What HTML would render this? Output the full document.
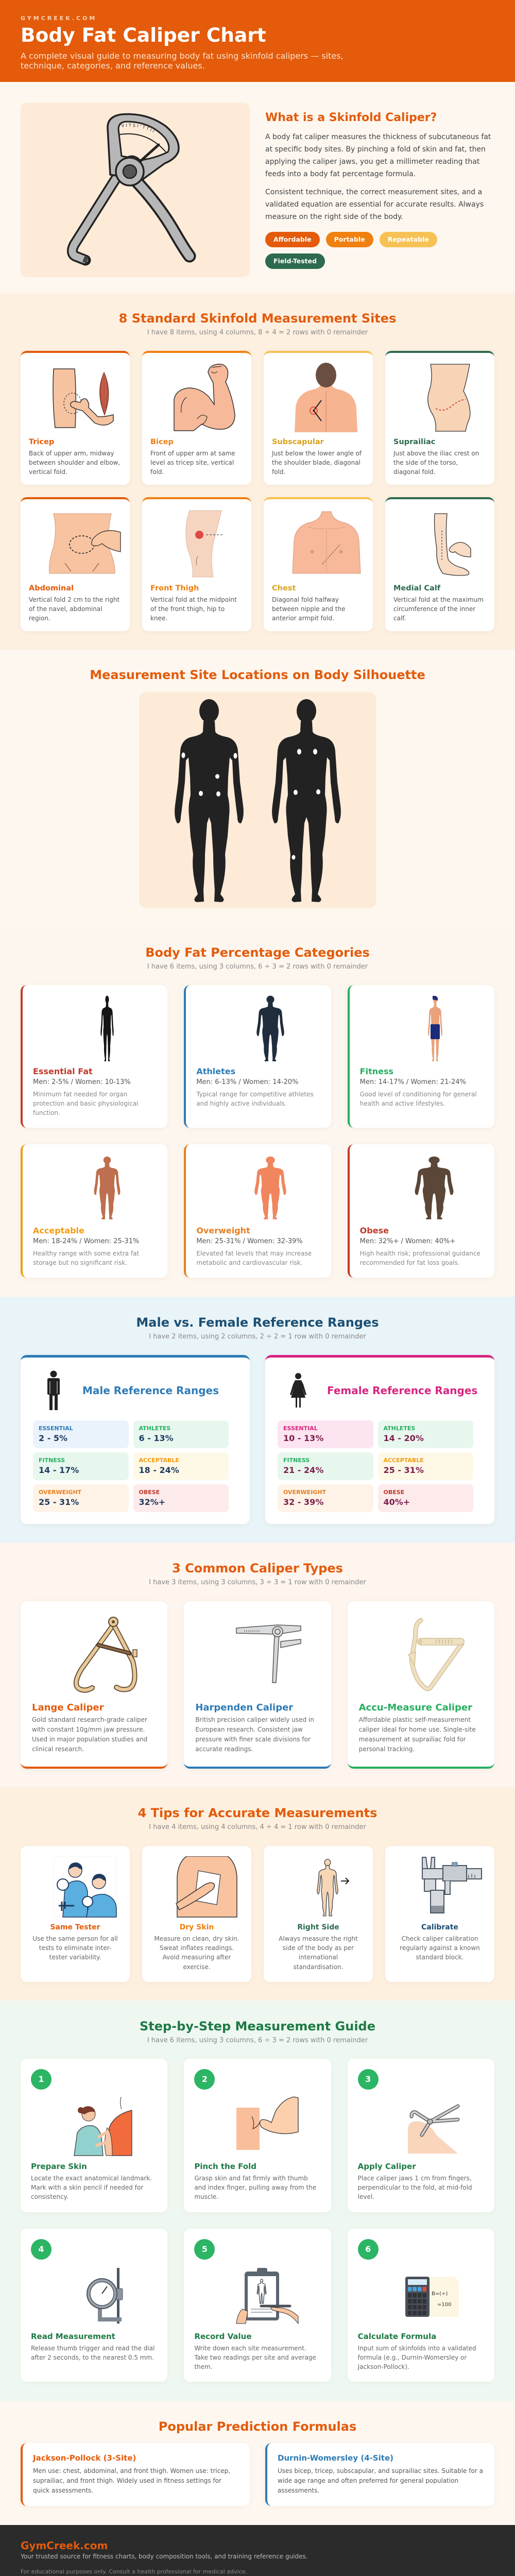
<!DOCTYPE html>
<html><head><meta charset="utf-8"><title>Body Fat Caliper Chart</title>
<style>
*{box-sizing:border-box}
html,body{height:5029px;max-height:5029px;overflow:hidden;background:#2b2b2b}
body{margin:0;width:1000px;font-family:"DejaVu Sans","Liberation Sans",sans-serif;color:#333}
section{overflow:hidden;padding:36px 40px 0;position:relative}
h2{margin:0 0 4px;text-align:center;font-size:24px;line-height:28.8px;font-weight:bold;color:#e35b0b}
.sub{text-align:center;font-size:13px;line-height:18px;color:#888;margin:0 0 26px}
.card{background:#fff;border-radius:12px;box-shadow:0 2px 10px rgba(120,80,40,0.06)}
svg{display:block}
.g4{display:grid;grid-template-columns:repeat(4,212px);gap:24px}
.g3{display:grid;grid-template-columns:repeat(3,285.33px);gap:32px}
.g2{display:grid;grid-template-columns:445px 445px;gap:30px}
.site{height:260px;border-top:4px solid;padding:16px}
.site h4{margin:8px 0 0;font-size:14.5px;line-height:18px}
.site p{margin:4px 0 0;font-size:12px;line-height:18px;color:#555}
.cat{border-left:4px solid;padding:20px}
.cat h4{margin:10px 0 0;font-size:16px;line-height:20px}
.cat .rng{margin-top:2px;font-size:13px;line-height:18px;color:#555}
.cat p{margin:5px 0 0;font-size:12px;line-height:18px;color:#888}
.mf{border-top:5px solid;padding:24px;height:328px}
.mfh{display:flex;align-items:center;height:80px;gap:16px}
.mfh h3{font-size:20px;margin:0;line-height:24px}
.rg{display:grid;grid-template-columns:185.5px 185.5px;gap:8px 9px;margin-top:18px}
.rb{border-radius:8px;height:54px;padding:9px 11px}
.rb .l{font-size:11px;line-height:14px;font-weight:bold;margin-bottom:2px}
.rb .v{font-size:16px;line-height:20px;font-weight:bold}
.ct{height:325px;border-bottom:4px solid;padding:22px}
.ct h4{margin:14px 0 0;font-size:18px;line-height:22px}
.ct p{margin:3.5px 0 0;font-size:12px;line-height:19px;color:#666}
.tip{height:264px;padding:20px 20px;text-align:center}
.tip svg{margin:0 auto}
.tip h4{margin:9px 0 0;font-size:14px;line-height:18px}
.tip p{margin:4px 0 0;font-size:12px;line-height:18.3px;color:#666}
.st{padding:20px}
.num{width:40px;height:40px;border-radius:50%;background:#2bb564;color:#fff;font-weight:bold;font-size:16px;line-height:40px;text-align:center}
.st svg{margin-top:12px}
.st h4{margin:8px 0 0;font-size:15px;line-height:19px;color:#1e7a45}
.st p{margin:4.5px 0 0;font-size:12px;line-height:18px;color:#666}
.fm{height:122px;border-left:4px solid;padding:20px}
.fm h4{margin:0;font-size:15px;line-height:19px}
.fm p{margin:6px 0 0;font-size:12px;line-height:19px;color:#555}
.tag{display:inline-block;height:30px;line-height:30px;padding:0 16px;border-radius:15px;color:#fff;font-weight:bold;font-size:12.5px}
</style></head>
<body>

<header style="height:159px;background:#e35b0b;padding:28px 40px 0;overflow:hidden">
<div style="font-size:11px;line-height:16px;font-weight:bold;letter-spacing:4px;color:#fcd3ae">GYMCREEK.COM</div>
<h1 style="margin:2px 0 0;font-size:37.5px;line-height:45px;color:#fff;font-weight:bold">Body Fat Caliper Chart</h1>
<p style="margin:7.5px 0 0;font-size:16px;line-height:19.2px;color:#fde3cc;max-width:680px">A complete visual guide to measuring body fat using skinfold calipers — sites, technique, categories, and reference values.</p>
</header>

<section style="height:410px;background:#fdf7f0;padding-top:40px">
<div style="display:flex;gap:30px">
<div style="width:445px;height:339px;background:#fdebd8;border-radius:12px;flex:none">
<svg width="445" height="339" viewBox="0 0 445 339">
<defs><path id="arcT" d="M196 48 Q250 40 288 84"/></defs>
<g stroke-linecap="round" stroke-linejoin="round">
<path d="M222 150 Q265 195 295 245 Q318 285 328 298" fill="none" stroke="#222" stroke-width="25"/>
<path d="M222 150 Q265 195 295 245 Q318 285 328 298" fill="none" stroke="#b7b7b7" stroke-width="17"/>
<path d="M186 146 L104 276 Q96 292 106 298 L126 306" fill="none" stroke="#222" stroke-width="21"/>
<path d="M186 146 L104 276 Q96 292 106 298 L124 305" fill="none" stroke="#b7b7b7" stroke-width="14"/>
<rect x="122" y="299" width="8" height="12" fill="#444" transform="rotate(20 126 305)"/>
<path d="M174 140 L169 50 Q168 27 196 23 Q245 19 282 46 Q312 72 306 96 Q300 110 280 118 L236 150 Z" fill="#b7b7b7" stroke="#222" stroke-width="3.5"/>
<path d="M196 104 L190 52 Q190 38 205 37 Q252 37 280 68 Q292 84 286 96 Q262 108 232 112 Q220 100 208 106 Z" fill="#fdebd8" stroke="#222" stroke-width="3"/>
<path d="M192 62 Q245 54 282 96" fill="none" stroke="#222" stroke-width="2"/>
<line x1="228" y1="118" x2="268" y2="82" stroke="#222" stroke-width="5"/>
<circle cx="212" cy="134" r="27" fill="#b7b7b7" stroke="#222" stroke-width="3.5"/>
<circle cx="212" cy="134" r="13" fill="#555" stroke="#222" stroke-width="2.5"/>
</g>
<text font-size="8" fill="#222" letter-spacing="3"><textPath href="#arcT">VITSI'TTII</textPath></text>
</svg>
</div>
<div style="width:445px;height:339px;display:flex;flex-direction:column;justify-content:center">
<h3 style="margin:0 0 11px;font-size:22px;line-height:28.6px;color:#e35b0b">What is a Skinfold Caliper?</h3>
<p style="margin:0 0 11px;font-size:14px;line-height:24px;color:#444">A body fat caliper measures the thickness of subcutaneous fat at specific body sites. By pinching a fold of skin and fat, then applying the caliper jaws, you get a millimeter reading that feeds into a body fat percentage formula.</p>
<p style="margin:0 0 17px;font-size:14px;line-height:24px;color:#444">Consistent technique, the correct measurement sites, and a validated equation are essential for accurate results. Always measure on the right side of the body.</p>
<div style="display:flex;flex-wrap:wrap;gap:12px">
<span class="tag" style="background:#e35b0b">Affordable</span>
<span class="tag" style="background:#f0800f">Portable</span>
<span class="tag" style="background:#f7c255">Repeatable</span>
<span class="tag" style="background:#2d6a4f">Field-Tested</span>
</div>
</div>
</div>
</section>

<section style="height:692px;background:#fdf0e1;padding-top:35px">
<h2>8 Standard Skinfold Measurement Sites</h2>
<div class="sub">I have 8 items, using 4 columns, 8 ÷ 4 = 2 rows with 0 remainder</div>
<div class="g4">
<div class="card site" style="border-top-color:#e35b0b">
<svg width="180" height="140" viewBox="0 0 180 140">
<path d="M48 15 L89 15 Q93 70 90 129 L51 129 Q45 75 48 15Z" fill="#f6c3a0" stroke="#333" stroke-width="1.5"/>
<ellipse cx="85" cy="82" rx="17" ry="20" fill="none" stroke="#333" stroke-dasharray="3 3" stroke-width="1.2"/>
<path d="M164 116 Q150 130 128 120 L104 96 Q92 94 82 88 Q78 80 88 78 L100 80 Q104 70 112 74 Q118 82 116 90 L134 108 Q150 108 164 104Z" fill="#f6c3a0" stroke="#333" stroke-width="1.5"/>
<path d="M146 22 Q163 60 147 104 Q129 60 146 22Z" fill="#c8604a" stroke="#6b2f22" stroke-width="1.2"/>
<path d="M146 30 L146 98 M141 40 Q138 62 143 92 M151 40 Q154 62 149 92" stroke="#8a3a2a" stroke-width="0.8" fill="none"/>
</svg>
<h4 style="color:#e35b0b">Tricep</h4>
<p>Back of upper arm, midway between shoulder and elbow, vertical fold.</p>
</div>
<div class="card site" style="border-top-color:#f0800f">
<svg width="180" height="140" viewBox="0 0 180 140">
<path d="M46 135 L46 74 Q50 55 74 52 Q98 52 114 70 L124 84 L122 42 Q116 32 112 22 Q114 8 130 6 Q146 4 150 18 Q152 30 146 40 Q160 70 164 104 Q164 128 142 132 Q120 134 100 122 L84 135 Z" fill="#f6b999" stroke="#333" stroke-width="1.5"/>
<path d="M60 100 Q58 80 70 70 M91 112 Q100 100 110 108 Q108 120 98 124 M118 20 Q124 26 130 20 M120 12 L138 10" stroke="#333" fill="none" stroke-width="1.2"/>
</svg>
<h4 style="color:#ef7d10">Bicep</h4>
<p>Front of upper arm at same level as tricep site, vertical fold.</p>
</div>
<div class="card site" style="border-top-color:#f5c150">
<svg width="180" height="140" viewBox="0 0 180 140">
<path d="M44 138 L46 92 Q48 62 80 55 Q95 52 96 42 L114 42 Q116 52 130 55 Q162 62 164 92 L166 138Z" fill="#f6b491"/>
<path d="M105 58 L105 138" stroke="#d98a6a" stroke-width="1.2"/>
<ellipse cx="105" cy="27" rx="20" ry="24" fill="#6a4e42"/>
<circle cx="81" cy="96" r="7" fill="none" stroke="#e5533f" stroke-width="2"/><circle cx="81" cy="96" r="2.5" fill="#e5533f"/>
<path d="M96 76 L81 96 L96 116" fill="none" stroke="#222" stroke-width="2"/>
</svg>
<h4 style="color:#d9a21b">Subscapular</h4>
<p>Just below the lower angle of the shoulder blade, diagonal fold.</p>
</div>
<div class="card site" style="border-top-color:#2d6a4f">
<svg width="180" height="140" viewBox="0 0 180 140">
<path d="M72 6 L148 6 Q142 38 136 58 Q152 88 148 110 Q142 124 140 136 L82 136 Q84 116 74 100 Q62 80 70 56 Q77 34 72 6Z" fill="#f8d4b7" stroke="#333" stroke-width="1.3"/>
<path d="M82 92 Q98 100 112 88 Q126 76 140 74" fill="none" stroke="#d9433a" stroke-width="1.8" stroke-dasharray="4 3"/>
</svg>
<h4 style="color:#2d6a4f">Suprailiac</h4>
<p>Just above the iliac crest on the side of the torso, diagonal fold.</p>
</div>
<div class="card site" style="border-top-color:#e35b0b">
<svg width="180" height="140" viewBox="0 0 180 140">
<path d="M48 12 L160 12 Q152 48 156 80 Q168 108 167 128 L40 128 Q38 104 48 76 Q55 42 48 12Z" fill="#f8c3a1" stroke="#d39a7a" stroke-width="1"/>
<path d="M70 108 L82 124 M136 108 L124 124" stroke="#8a5a45" stroke-width="1.2"/>
<ellipse cx="103" cy="72" rx="24" ry="17" fill="none" stroke="#333" stroke-width="1.8" stroke-dasharray="4 3"/>
<path d="M178 48 Q152 40 134 52 Q120 62 122 72 Q130 78 142 70 Q156 82 178 86Z" fill="#f9c6a2" stroke="#333" stroke-width="1.3"/>
</svg>
<h4 style="color:#e35b0b">Abdominal</h4>
<p>Vertical fold 2 cm to the right of the navel, abdominal region.</p>
</div>
<div class="card site" style="border-top-color:#f0800f">
<svg width="180" height="140" viewBox="0 0 180 140">
<path d="M76 6 L138 6 Q130 40 122 70 Q116 100 122 135 L82 135 Q84 110 72 80 Q64 40 76 6Z" fill="#f6d5c0" stroke="#d9b9a5" stroke-width="1"/>
<circle cx="95" cy="53" r="8" fill="#e04848"/>
<path d="M108 53 L142 53" stroke="#555" stroke-width="1.3" stroke-dasharray="4 3"/>
<path d="M92 94 Q88 104 90 112" stroke="#8a6a5a" fill="none"/>
</svg>
<h4 style="color:#ef7d10">Front Thigh</h4>
<p>Vertical fold at the midpoint of the front thigh, hip to knee.</p>
</div>
<div class="card site" style="border-top-color:#f5c150">
<svg width="180" height="140" viewBox="0 0 180 140">
<path d="M40 128 L43 64 Q46 34 78 28 Q95 22 97 8 L115 8 Q117 22 134 28 Q166 34 169 64 L172 128Z" fill="#f7b999" stroke="#d9957a" stroke-width="1"/>
<circle cx="78" cy="86" r="3.5" fill="#e2977a"/><circle cx="134" cy="86" r="3.5" fill="#e2977a"/>
<path d="M98 110 L132 72" stroke="#444" stroke-width="1" stroke-dasharray="3 2"/>
<path d="M106 40 L106 128 M70 38 Q90 44 104 40 M142 38 Q122 44 108 40" stroke="#e0a184" stroke-width="1" fill="none"/>
</svg>
<h4 style="color:#d9a21b">Chest</h4>
<p>Diagonal fold halfway between nipple and the anterior armpit fold.</p>
</div>
<div class="card site" style="border-top-color:#2d6a4f">
<svg width="180" height="140" viewBox="0 0 180 140">
<path d="M80 12 L104 12 Q100 60 106 100 Q112 112 136 118 Q152 126 144 131 Q120 134 96 128 Q82 110 84 80 Q78 40 80 12Z" fill="#f8dcc5" stroke="#333" stroke-width="1.3"/>
<path d="M94 45 L94 102" stroke="#333" stroke-width="1.2" stroke-dasharray="3 3"/>
<path d="M150 80 Q140 66 126 68 Q112 72 108 82 Q112 90 120 86 Q130 96 150 96Z" fill="#f8dcc5" stroke="#333" stroke-width="1.3"/>
</svg>
<h4 style="color:#2d6a4f">Medial Calf</h4>
<p>Vertical fold at the maximum circumference of the inner calf.</p>
</div>
</div>
</section>

<section style="height:536px;background:#fdf7f0;padding-top:35px">
<h2 style="margin-bottom:18px">Measurement Site Locations on Body Silhouette</h2>
<div style="width:460px;height:420px;margin:0 auto;background:#fdebd8;border-radius:14px">
<svg width="460" height="420" viewBox="0 0 460 420">
<g transform="translate(136,15)" fill="#222"><ellipse cx="0" cy="22" rx="19" ry="23"/><path d="M-11 42L-12 62Q-14 68-32 72Q-54 76-56 100L-60 160L-66 205Q-69 228-62 240Q-55 241-55 228L-52 205L-47 160L-45 118L-40 112L-37 150L-36 185Q-41 205-39 225L-36 265L-31 300Q-34 330-26 362L-22 378Q-34 390-24 393L-10 392L-11 370Q-8 330-8 300L-4 240L0 228L4 240L8 300Q8 330 11 370L10 392L24 393Q34 390 22 378L26 362Q34 330 31 300L36 265L39 225Q41 205 36 185L37 150L40 112L45 118L47 160L52 205L55 228Q55 241 62 240Q69 228 66 205L60 160L56 100Q54 76 32 72Q14 68 12 62L11 42Z"/>
<g fill="#fff"><ellipse cx="-50" cy="108" rx="3.5" ry="5.5"/><ellipse cx="51" cy="109" rx="3.5" ry="5.5"/><ellipse cx="16" cy="149" rx="4" ry="4.5"/><ellipse cx="-16" cy="182" rx="4" ry="5"/><ellipse cx="18" cy="183" rx="4" ry="5"/></g></g>
<g transform="translate(325,15)" fill="#222"><ellipse cx="0" cy="22" rx="19" ry="23"/><path d="M-11 42L-12 62Q-14 68-32 72Q-54 76-56 100L-60 160L-66 205Q-69 228-62 240Q-55 241-55 228L-52 205L-47 160L-45 118L-40 112L-37 150L-36 185Q-41 205-39 225L-36 265L-31 300Q-34 330-26 362L-22 378Q-34 390-24 393L-10 392L-11 370Q-8 330-8 300L-4 240L0 228L4 240L8 300Q8 330 11 370L10 392L24 393Q34 390 22 378L26 362Q34 330 31 300L36 265L39 225Q41 205 36 185L37 150L40 112L45 118L47 160L52 205L55 228Q55 241 62 240Q69 228 66 205L60 160L56 100Q54 76 32 72Q14 68 12 62L11 42Z"/>
<g fill="#fff"><ellipse cx="-14" cy="101" rx="4" ry="5.5"/><ellipse cx="17" cy="101" rx="4" ry="5.5"/><ellipse cx="-21" cy="180" rx="4" ry="5"/><ellipse cx="23" cy="179" rx="4" ry="5"/><ellipse cx="-25" cy="306" rx="3.5" ry="4.5"/></g></g>
</svg>
</div>
</section>

<section style="height:720px;background:#fdf6ee;padding-top:38px">
<h2>Body Fat Percentage Categories</h2>
<div class="sub">I have 6 items, using 3 columns, 6 ÷ 3 = 2 rows with 0 remainder</div>
<div class="g3">
<div class="card cat" style="border-left-color:#c0392b;height:277px">
<svg width="241" height="128" viewBox="0 0 241 128"><g transform="translate(144,1) scale(0.19,0.325)" fill="#151515"><ellipse cx="0" cy="22" rx="19" ry="23"/><path d="M-11 42L-12 62Q-14 68-32 72Q-54 76-56 100L-60 160L-66 205Q-69 228-62 240Q-55 241-55 228L-52 205L-47 160L-45 118L-40 112L-37 150L-36 185Q-41 205-39 225L-36 265L-31 300Q-34 330-26 362L-22 378Q-34 390-24 393L-10 392L-11 370Q-8 330-8 300L-4 240L0 228L4 240L8 300Q8 330 11 370L10 392L24 393Q34 390 22 378L26 362Q34 330 31 300L36 265L39 225Q41 205 36 185L37 150L40 112L45 118L47 160L52 205L55 228Q55 241 62 240Q69 228 66 205L60 160L56 100Q54 76 32 72Q14 68 12 62L11 42Z"/></g></svg>
<h4 style="color:#c0392b">Essential Fat</h4>
<div class="rng">Men: 2-5% / Women: 10-13%</div>
<p>Minimum fat needed for organ protection and basic physiological function.</p>
</div>
<div class="card cat" style="border-left-color:#2e7bb5;height:277px">
<svg width="241" height="128" viewBox="0 0 241 128"><g transform="translate(144,1) scale(0.40,0.325)" fill="#1f2d3d"><ellipse cx="0" cy="22" rx="19" ry="23"/><path d="M-11 42L-12 62Q-14 68-32 72Q-54 76-56 100L-60 160L-66 205Q-69 228-62 240Q-55 241-55 228L-52 205L-47 160L-45 118L-40 112L-37 150L-36 185Q-41 205-39 225L-36 265L-31 300Q-34 330-26 362L-22 378Q-34 390-24 393L-10 392L-11 370Q-8 330-8 300L-4 240L0 228L4 240L8 300Q8 330 11 370L10 392L24 393Q34 390 22 378L26 362Q34 330 31 300L36 265L39 225Q41 205 36 185L37 150L40 112L45 118L47 160L52 205L55 228Q55 241 62 240Q69 228 66 205L60 160L56 100Q54 76 32 72Q14 68 12 62L11 42Z"/></g></svg>
<h4 style="color:#2e7bb5">Athletes</h4>
<div class="rng">Men: 6-13% / Women: 14-20%</div>
<p>Typical range for competitive athletes and highly active individuals.</p>
</div>
<div class="card cat" style="border-left-color:#27ae60;height:277px">
<svg width="241" height="128" viewBox="0 0 241 128"><g transform="translate(146,1) scale(0.21,0.325)" fill="#e9a27c"><ellipse cx="0" cy="22" rx="19" ry="23"/><path d="M-11 42L-12 62Q-14 68-32 72Q-54 76-56 100L-60 160L-66 205Q-69 228-62 240Q-55 241-55 228L-52 205L-47 160L-45 118L-40 112L-37 150L-36 185Q-41 205-39 225L-36 265L-31 300Q-34 330-26 362L-22 378Q-34 390-24 393L-10 392L-11 370Q-8 330-8 300L-4 240L0 228L4 240L8 300Q8 330 11 370L10 392L24 393Q34 390 22 378L26 362Q34 330 31 300L36 265L39 225Q41 205 36 185L37 150L40 112L45 118L47 160L52 205L55 228Q55 241 62 240Q69 228 66 205L60 160L56 100Q54 76 32 72Q14 68 12 62L11 42Z"/></g>
<rect x="137" y="56" width="18" height="29" rx="2" fill="#1b2d7a"/><path d="M141 1 Q150 0 151 6 L151 10 L141 8Z" fill="#1b2d7a"/></svg>
<h4 style="color:#27ae60">Fitness</h4>
<div class="rng">Men: 14-17% / Women: 21-24%</div>
<p>Good level of conditioning for general health and active lifestyles.</p>
</div>
<div class="card cat" style="border-left-color:#f39c12;height:259px">
<svg width="241" height="128" viewBox="0 0 241 128"><g transform="translate(144,4) scale(0.38,0.31)" fill="#bd6f4f"><ellipse cx="0" cy="22" rx="19" ry="23"/><path d="M-11 42L-12 62Q-14 68-32 72Q-54 76-56 100L-60 160L-66 205Q-69 228-62 240Q-55 241-55 228L-52 205L-47 160L-45 118L-40 112L-37 150L-36 185Q-41 205-39 225L-36 265L-31 300Q-34 330-26 362L-22 378Q-34 390-24 393L-10 392L-11 370Q-8 330-8 300L-4 240L0 228L4 240L8 300Q8 330 11 370L10 392L24 393Q34 390 22 378L26 362Q34 330 31 300L36 265L39 225Q41 205 36 185L37 150L40 112L45 118L47 160L52 205L55 228Q55 241 62 240Q69 228 66 205L60 160L56 100Q54 76 32 72Q14 68 12 62L11 42Z"/></g></svg>
<h4 style="color:#f39c12">Acceptable</h4>
<div class="rng">Men: 18-24% / Women: 25-31%</div>
<p>Healthy range with some extra fat storage but no significant risk.</p>
</div>
<div class="card cat" style="border-left-color:#e67e22;height:259px">
<svg width="241" height="128" viewBox="0 0 241 128"><g transform="translate(144,4) scale(0.46,0.31)" fill="#f0855e"><ellipse cx="0" cy="22" rx="19" ry="23"/><path d="M-11 42L-12 62Q-14 68-32 72Q-54 76-56 100L-60 160L-66 205Q-69 228-62 240Q-55 241-55 228L-52 205L-47 160L-45 118L-40 112L-37 150L-36 185Q-41 205-39 225L-36 265L-31 300Q-34 330-26 362L-22 378Q-34 390-24 393L-10 392L-11 370Q-8 330-8 300L-4 240L0 228L4 240L8 300Q8 330 11 370L10 392L24 393Q34 390 22 378L26 362Q34 330 31 300L36 265L39 225Q41 205 36 185L37 150L40 112L45 118L47 160L52 205L55 228Q55 241 62 240Q69 228 66 205L60 160L56 100Q54 76 32 72Q14 68 12 62L11 42Z"/></g></svg>
<h4 style="color:#e67e22">Overweight</h4>
<div class="rng">Men: 25-31% / Women: 32-39%</div>
<p>Elevated fat levels that may increase metabolic and cardiovascular risk.</p>
</div>
<div class="card cat" style="border-left-color:#c0392b;height:259px">
<svg width="241" height="128" viewBox="0 0 241 128"><g transform="translate(144,4) scale(0.56,0.31)" fill="#5b4637"><ellipse cx="0" cy="22" rx="19" ry="23"/><path d="M-11 42L-12 62Q-14 68-32 72Q-54 76-56 100L-60 160L-66 205Q-69 228-62 240Q-55 241-55 228L-52 205L-47 160L-45 118L-40 112L-37 150L-36 185Q-41 205-39 225L-36 265L-31 300Q-34 330-26 362L-22 378Q-34 390-24 393L-10 392L-11 370Q-8 330-8 300L-4 240L0 228L4 240L8 300Q8 330 11 370L10 392L24 393Q34 390 22 378L26 362Q34 330 31 300L36 265L39 225Q41 205 36 185L37 150L40 112L45 118L47 160L52 205L55 228Q55 241 62 240Q69 228 66 205L60 160L56 100Q54 76 32 72Q14 68 12 62L11 42Z"/></g></svg>
<h4 style="color:#c0392b">Obese</h4>
<div class="rng">Men: 32%+ / Women: 40%+</div>
<p>High health risk; professional guidance recommended for fat loss goals.</p>
</div>
</div>
</section>

<section style="height:477px;background:#e9f4f8;padding-top:36px">
<h2 style="color:#1b4f72">Male vs. Female Reference Ranges</h2>
<div class="sub">I have 2 items, using 2 columns, 2 ÷ 2 = 1 row with 0 remainder</div>
<div class="g2">
<div class="card mf" style="border-top-color:#2e7bb5">
<div class="mfh">
<svg width="80" height="80" viewBox="0 0 80 80"><g fill="#222"><circle cx="40" cy="8" r="6.5"/><path d="M28 19 Q28 16 31 16 L49 16 Q52 16 52 19 L52 46 Q52 48 50 48 L48 48 L48 78 L42 78 L42 50 L38 50 L38 78 L32 78 L32 48 L30 48 Q28 48 28 46Z"/></g><path d="M33 22 L33 46 M47 22 L47 46" stroke="#fff" stroke-width="1"/></svg>
<h3 style="color:#2e7bb5">Male Reference Ranges</h3>
</div>
<div class="rg">
<div class="rb" style="background:#eaf3fb"><div class="l" style="color:#2e7bb5">ESSENTIAL</div><div class="v" style="color:#1e3a5f">2 - 5%</div></div>
<div class="rb" style="background:#e7f7ee"><div class="l" style="color:#27ae60">ATHLETES</div><div class="v" style="color:#1e3a5f">6 - 13%</div></div>
<div class="rb" style="background:#e7f7ee"><div class="l" style="color:#27ae60">FITNESS</div><div class="v" style="color:#1e3a5f">14 - 17%</div></div>
<div class="rb" style="background:#fef8e6"><div class="l" style="color:#f39c12">ACCEPTABLE</div><div class="v" style="color:#1e3a5f">18 - 24%</div></div>
<div class="rb" style="background:#fef3e6"><div class="l" style="color:#e67e22">OVERWEIGHT</div><div class="v" style="color:#1e3a5f">25 - 31%</div></div>
<div class="rb" style="background:#fdebeb"><div class="l" style="color:#c0392b">OBESE</div><div class="v" style="color:#1e3a5f">32%+</div></div>
</div>
</div>
<div class="card mf" style="border-top-color:#d6247f">
<div class="mfh">
<svg width="80" height="80" viewBox="0 0 80 80"><g fill="#222"><circle cx="40" cy="12" r="6"/><path d="M34 20 L46 20 L50 28 L56 48 L53 49 L48 34 L54 54 L45 54 L45 73 L42 73 L42 54 L38 54 L38 73 L35 73 L35 54 L26 54 L32 34 L27 49 L24 48 L30 28Z"/></g></svg>
<h3 style="color:#d6247f">Female Reference Ranges</h3>
</div>
<div class="rg">
<div class="rb" style="background:#fce4f0"><div class="l" style="color:#d6247f">ESSENTIAL</div><div class="v" style="color:#7b1d4d">10 - 13%</div></div>
<div class="rb" style="background:#e7f7ee"><div class="l" style="color:#27ae60">ATHLETES</div><div class="v" style="color:#7b1d4d">14 - 20%</div></div>
<div class="rb" style="background:#e7f7ee"><div class="l" style="color:#27ae60">FITNESS</div><div class="v" style="color:#7b1d4d">21 - 24%</div></div>
<div class="rb" style="background:#fef8e6"><div class="l" style="color:#f39c12">ACCEPTABLE</div><div class="v" style="color:#7b1d4d">25 - 31%</div></div>
<div class="rb" style="background:#fef3e6"><div class="l" style="color:#e67e22">OVERWEIGHT</div><div class="v" style="color:#7b1d4d">32 - 39%</div></div>
<div class="rb" style="background:#fdebeb"><div class="l" style="color:#c0392b">OBESE</div><div class="v" style="color:#7b1d4d">40%+</div></div>
</div>
</div>
</div>
</section>

<section style="height:475px;background:#fdf5ee;padding-top:36px">
<h2>3 Common Caliper Types</h2>
<div class="sub" style="margin-bottom:27px">I have 3 items, using 3 columns, 3 ÷ 3 = 1 row with 0 remainder</div>
<div class="g3">
<div class="card ct" style="border-bottom-color:#e35b0b">
<svg width="241" height="160" viewBox="0 0 241 160">
<g fill="none" stroke-linecap="round" stroke-linejoin="round">
<path d="M155 28 L96 110 Q78 140 92 148 Q104 154 117 146" stroke="#5a4632" stroke-width="10"/>
<path d="M155 28 L96 110 Q78 140 92 148 Q104 154 117 146" stroke="#e9c896" stroke-width="6.5"/>
<path d="M161 28 L196 95 Q206 140 188 148 Q175 152 164 145" stroke="#5a4632" stroke-width="10"/>
<path d="M161 28 L196 95 Q206 140 188 148 Q175 152 164 145" stroke="#e9c896" stroke-width="6.5"/>
<path d="M129 63 L190 79" stroke="#4a3322" stroke-width="8"/>
<path d="M129 63 L190 79" stroke="#8a6a4a" stroke-width="4" stroke-dasharray="2 2"/>
</g>
<rect x="196" y="72" width="8" height="14" fill="#e9c896" stroke="#5a4632" stroke-width="1.5"/>
<circle cx="158" cy="18" r="9" fill="#e9c896" stroke="#5a4632" stroke-width="2"/><circle cx="158" cy="18" r="3" fill="#5a4632"/>
</svg>
<h4 style="color:#e35b0b">Lange Caliper</h4>
<p>Gold standard research-grade caliper with constant 10g/mm jaw pressure. Used in major population studies and clinical research.</p>
</div>
<div class="card ct" style="border-bottom-color:#2e7bb5">
<svg width="241" height="160" viewBox="0 0 241 160">
<path d="M80 30 L160 24 L205 26 L205 35 L160 42 L80 40Z" fill="#dadbdd" stroke="#555" stroke-width="1.5"/>
<path d="M96 34 v4 M100 34 v4 M104 34 v4 M108 34 v4 M112 34 v4 M116 34 v4 M120 34 v4 M124 34 v4" stroke="#666" stroke-width="1"/>
<path d="M166 56 L205 52 L205 60 L166 68Z" fill="#dadbdd" stroke="#555" stroke-width="1.5"/>
<path d="M154 44 L163 44 L157 136 L150 136Z" fill="#d5d6d8" stroke="#555" stroke-width="1.5"/>
<circle cx="160" cy="37" r="10" fill="#dadbdd" stroke="#555" stroke-width="1.5"/><circle cx="160" cy="37" r="5" fill="none" stroke="#555" stroke-width="1.5"/>
</svg>
<h4 style="color:#2e7bb5">Harpenden Caliper</h4>
<p>British precision caliper widely used in European research. Consistent jaw pressure with finer scale divisions for accurate readings.</p>
</div>
<div class="card ct" style="border-bottom-color:#27ae60">
<svg width="241" height="160" viewBox="0 0 241 160">
<g fill="none" stroke-linecap="round" stroke-linejoin="round">
<path d="M120 15 Q108 22 110 45 L102 92 Q108 130 126 144 Q134 152 140 144 L200 60" stroke="#d2be95" stroke-width="9"/>
<path d="M120 15 Q108 22 110 45 L102 92 Q108 130 126 144 Q134 152 140 144 L200 60" stroke="#efe0c2" stroke-width="6"/>
</g>
<path d="M96 82 L110 76 L108 104Z" fill="#efe0c2" stroke="#d2be95" stroke-width="1.5"/>
<rect x="114" y="50" width="90" height="13" rx="6" fill="#efe0c2" stroke="#d2be95" stroke-width="1.5"/>
<ellipse cx="118" cy="56.5" rx="5" ry="6.5" fill="#e0cda6"/>
<path d="M150 52 v8 M156 52 v8 M162 52 v8 M168 52 v8 M174 52 v8 M180 52 v8" stroke="#b9a47a" stroke-width="1"/>
</svg>
<h4 style="color:#27ae60">Accu-Measure Caliper</h4>
<p>Affordable plastic self-measurement caliper ideal for home use. Single-site measurement at suprailiac fold for personal tracking.</p>
</div>
</div>
</section>

<section style="height:414px;background:#fef0df;padding-top:36px">
<h2>4 Tips for Accurate Measurements</h2>
<div class="sub" style="margin-bottom:27px">I have 4 items, using 4 columns, 4 ÷ 4 = 1 row with 0 remainder</div>
<div class="g4">
<div class="card tip">
<svg width="172" height="120" viewBox="4 0 172 120">
<rect x="49" y="0" width="121" height="118" fill="#fff" stroke="#f2f2f2"/>
<path d="M66 118 L70 62 Q78 46 98 48 Q112 52 114 70 L114 118Z" fill="#5aaee0" stroke="#1e3a5f" stroke-width="1.5"/>
<circle cx="90" cy="28" r="13" fill="#f8d2b5" stroke="#1e3a5f" stroke-width="1.5"/>
<path d="M77 26 Q78 12 92 12 Q104 14 104 26 L98 24 Q92 18 84 22Z" fill="#1e3a5f"/>
<path d="M112 118 L118 84 Q128 72 148 74 Q168 80 170 100 L170 118Z" fill="#5aaee0" stroke="#1e3a5f" stroke-width="1.5"/>
<circle cx="136" cy="50" r="13" fill="#f8d2b5" stroke="#1e3a5f" stroke-width="1.5"/>
<path d="M123 48 Q124 34 138 34 Q150 36 150 48 L144 46 Q138 40 130 44Z" fill="#1e3a5f"/>
<circle cx="66" cy="55" r="11" fill="#fff" stroke="#1e3a5f" stroke-width="2"/>
<circle cx="114" cy="88" r="10" fill="#fff" stroke="#1e3a5f" stroke-width="2"/>
<path d="M58 96 L88 96 M64 88 L64 106 M70 88 L70 102" stroke="#1e3a5f" stroke-width="3"/>
</svg>
<h4 style="color:#e35b0b">Same Tester</h4>
<p>Use the same person for all tests to eliminate inter-tester variability.</p>
</div>
<div class="card tip">
<svg width="172" height="120" viewBox="4 0 172 120">
<path d="M52 118 L52 40 Q54 12 70 0 L150 0 Q166 12 168 40 L168 118Z" fill="#f9c39f" stroke="#333" stroke-width="1.5"/>
<path d="M93 28 L136 36 L129 94 L86 86Z" fill="#fff" stroke="#555" stroke-width="1.5"/>
<path d="M50 92 Q80 72 104 56 Q118 48 124 54 Q126 62 116 68 L108 74 Q80 92 56 104Z" fill="#f9c39f" stroke="#333" stroke-width="1.5"/>
</svg>
<h4 style="color:#ef7d10">Dry Skin</h4>
<p>Measure on clean, dry skin. Sweat inflates readings. Avoid measuring after exercise.</p>
</div>
<div class="card tip">
<svg width="172" height="120" viewBox="4 0 172 120">
<g transform="translate(108,6) scale(0.3,0.28)" fill="#f6d6b6" stroke="#555" stroke-width="5"><ellipse cx="0" cy="22" rx="19" ry="23"/><path d="M-11 42L-12 62Q-14 68-32 72Q-54 76-56 100L-60 160L-66 205Q-69 228-62 240Q-55 241-55 228L-52 205L-47 160L-45 118L-40 112L-37 150L-36 185Q-41 205-39 225L-36 265L-31 300Q-34 330-26 362L-22 378Q-34 390-24 393L-10 392L-11 370Q-8 330-8 300L-4 240L0 228L4 240L8 300Q8 330 11 370L10 392L24 393Q34 390 22 378L26 362Q34 330 31 300L36 265L39 225Q41 205 36 185L37 150L40 112L45 118L47 160L52 205L55 228Q55 241 62 240Q69 228 66 205L60 160L56 100Q54 76 32 72Q14 68 12 62L11 42Z"/></g>
<path d="M134 48 L148 48 M143 42 L149 48 L143 54" stroke="#222" stroke-width="2" fill="none"/>
</svg>
<h4 style="color:#2d6a4f">Right Side</h4>
<p>Always measure the right side of the body as per international standardisation.</p>
</div>
<div class="card tip">
<svg width="172" height="120" viewBox="4 0 172 120">
<path d="M56 24 L56 2 L63 2 L66 24Z M72 24 L74 2 L80 2 L80 24Z" fill="#d5d9de" stroke="#4a5560" stroke-width="2"/>
<rect x="56" y="24" width="115" height="20" fill="#d5d9de" stroke="#4a5560" stroke-width="2"/>
<path d="M104 34 v8 M110 36 v6 M116 34 v8 M122 36 v6 M128 34 v8 M134 36 v6 M140 34 v8 M146 36 v6 M152 34 v8 M158 36 v6" stroke="#4a5560" stroke-width="1.3"/>
<rect x="60" y="44" width="22" height="24" fill="#d5d9de" stroke="#4a5560" stroke-width="2"/>
<rect x="72" y="66" width="26" height="44" fill="#d5d9de" stroke="#4a5560" stroke-width="2"/>
<rect x="73" y="96" width="24" height="13" fill="#8a9199"/>
<rect x="96" y="18" width="46" height="30" fill="#c7ccd2" stroke="#4a5560" stroke-width="2"/>
<path d="M100 48 L100 74 L110 74 L110 48" fill="#d5d9de" stroke="#4a5560" stroke-width="2"/>
<rect x="114" y="12" width="10" height="7" fill="#7aa6c9" stroke="#4a5560"/>
</svg>
<h4 style="color:#1b4f72">Calibrate</h4>
<p>Check caliper calibration regularly against a known standard block.</p>
</div>
</div>
</section>

<section style="height:778px;background:#eef8f1;padding-top:36px">
<h2 style="color:#1e7a45">Step-by-Step Measurement Guide</h2>
<div class="sub">I have 6 items, using 3 columns, 6 ÷ 3 = 2 rows with 0 remainder</div>
<div class="g3">
<div class="card st" style="height:298px">
<div class="num">1</div>
<svg width="245" height="120" viewBox="0 0 245 120">
<path d="M84 116 L90 72 Q100 56 120 58 Q134 62 137 82 L140 116Z" fill="#92d1cd" stroke="#333" stroke-width="1.2"/>
<circle cx="112" cy="36" r="13" fill="#f5c6a4" stroke="#333" stroke-width="1"/>
<path d="M98 34 Q98 20 112 20 Q124 22 125 32 Q116 28 104 36Z" fill="#7a3a2c"/><circle cx="97" cy="28" r="6" fill="#7a3a2c"/>
<path d="M156 116 L152 62 Q162 36 196 28 L196 116Z" fill="#f26b3d" stroke="#333" stroke-width="1.2"/>
<path d="M148 62 Q158 70 158 116 L146 116 Q140 90 148 62Z" fill="#f6c6a6" stroke="#333" stroke-width="1"/>
<path d="M132 80 Q140 74 148 70 M128 96 Q138 92 150 90" stroke="#f5c6a4" stroke-width="6" stroke-linecap="round" fill="none"/>
<path d="M175 2 Q172 14 176 26" stroke="#333" fill="none"/>
</svg>
<h4>Prepare Skin</h4>
<p>Locate the exact anatomical landmark. Mark with a skin pencil if needed for consistency.</p>
</div>
<div class="card st" style="height:298px">
<div class="num">2</div>
<svg width="245" height="120" viewBox="0 0 245 120">
<rect x="82" y="23" width="45" height="82" fill="#f9bf9a"/>
<path d="M202 70 Q180 76 160 72 Q140 68 130 60 Q124 50 132 46 Q142 46 150 52 L158 30 Q172 6 194 2 L202 4Z" fill="#fcd0ad" stroke="#333" stroke-width="1.3"/>
<path d="M112 40 Q118 52 114 64 Q124 60 128 50" stroke="#333" fill="none" stroke-width="1.2"/>
</svg>
<h4>Pinch the Fold</h4>
<p>Grasp skin and fat firmly with thumb and index finger, pulling away from the muscle.</p>
</div>
<div class="card st" style="height:298px">
<div class="num">3</div>
<svg width="245" height="120" viewBox="0 0 245 120">
<path d="M97 112 L97 62 Q100 46 122 50 Q142 56 152 76 L194 112Z" fill="#f8d5bb"/>
<g fill="none" stroke-linecap="round">
<path d="M140 50 L112 32 Q104 30 104 40 M140 50 L194 20 M140 50 L194 46 M140 50 L124 76" stroke="#555" stroke-width="7"/>
<path d="M140 50 L112 32 Q104 30 104 40 M140 50 L194 20 M140 50 L194 46 M140 50 L124 76" stroke="#cfcfcf" stroke-width="4"/>
</g>
<circle cx="140" cy="50" r="5" fill="#bbb" stroke="#555" stroke-width="1.5"/>
</svg>
<h4>Apply Caliper</h4>
<p>Place caliper jaws 1 cm from fingers, perpendicular to the fold, at mid-fold level.</p>
</div>
<div class="card st" style="height:297px">
<div class="num">4</div>
<svg width="245" height="120" viewBox="0 0 245 120">
<rect x="167" y="4" width="5" height="108" fill="#4a5560"/>
<path d="M134 82 L134 104 L176 104" stroke="#7f8891" stroke-width="8" fill="none"/>
<rect x="158" y="44" width="20" height="22" rx="2" fill="#8c959e" stroke="#4a5560"/>
<circle cx="138" cy="54" r="29" fill="#9aa3ab" stroke="#4a5560" stroke-width="2"/>
<circle cx="138" cy="54" r="23" fill="#fff" stroke="#4a5560" stroke-width="1.5"/>
<path d="M138 54 L148 40" stroke="#333" stroke-width="2"/>
</svg>
<h4>Read Measurement</h4>
<p>Release thumb trigger and read the dial after 2 seconds, to the nearest 0.5 mm.</p>
</div>
<div class="card st" style="height:297px">
<div class="num">5</div>
<svg width="245" height="120" viewBox="0 0 245 120">
<rect x="98" y="11" width="67" height="95" rx="6" fill="#5b6570"/>
<rect x="104" y="20" width="55" height="80" fill="#fff"/>
<rect x="122" y="4" width="20" height="12" rx="3" fill="#5b6570"/>
<g transform="translate(131,26) scale(0.13,0.12)" fill="#fff" stroke="#5b6570" stroke-width="12"><ellipse cx="0" cy="22" rx="19" ry="23"/><path d="M-11 42L-12 62Q-14 68-32 72Q-54 76-56 100L-60 160L-66 205Q-69 228-62 240Q-55 241-55 228L-52 205L-47 160L-45 118L-40 112L-37 150L-36 185Q-41 205-39 225L-36 265L-31 300Q-34 330-26 362L-22 378Q-34 390-24 393L-10 392L-11 370Q-8 330-8 300L-4 240L0 228L4 240L8 300Q8 330 11 370L10 392L24 393Q34 390 22 378L26 362Q34 330 31 300L36 265L39 225Q41 205 36 185L37 150L40 112L45 118L47 160L52 205L55 228Q55 241 62 240Q69 228 66 205L60 160L56 100Q54 76 32 72Q14 68 12 62L11 42Z"/></g>
<path d="M110 84 L152 84 M110 90 L152 90" stroke="#5b6570"/>
<path d="M82 112 Q84 92 94 84 L104 88 L100 112Z" fill="#f8c4a0" stroke="#333"/>
<path d="M130 78 L186 78" stroke="#4a4f57" stroke-width="5" stroke-linecap="round"/>
<path d="M202 112 Q190 96 176 92 L152 86 L148 80 L172 82 Q190 86 202 98Z" fill="#f8c4a0" stroke="#333"/>
</svg>
<h4>Record Value</h4>
<p>Write down each site measurement. Take two readings per site and average them.</p>
</div>
<div class="card st" style="height:297px">
<div class="num">6</div>
<svg width="245" height="120" viewBox="0 0 245 120">
<path d="M139 21 L188 21 L196 30 L196 99 L139 99Z" fill="#fdf6e3"/>
<text x="143" y="57" font-size="10" fill="#333" font-family="DejaVu Sans">B=(÷)</text>
<text x="154" y="78" font-size="10" fill="#333" font-family="DejaVu Sans">=100</text>
<rect x="92" y="21" width="47" height="78" rx="4" fill="#4a4f57"/>
<rect x="97" y="26" width="37" height="11" fill="#d7ecf7"/>
<g fill="#2f3338"><rect x="97" y="53" width="7.5" height="8.5"/><rect x="106.5" y="53" width="7.5" height="8.5"/><rect x="116" y="53" width="7.5" height="8.5"/><rect x="125.5" y="53" width="7.5" height="8.5"/><rect x="97" y="64.5" width="7.5" height="8.5"/><rect x="106.5" y="64.5" width="7.5" height="8.5"/><rect x="116" y="64.5" width="7.5" height="8.5"/><rect x="125.5" y="64.5" width="7.5" height="8.5"/><rect x="97" y="76" width="7.5" height="8.5"/><rect x="106.5" y="76" width="7.5" height="8.5"/><rect x="116" y="76" width="7.5" height="8.5"/><rect x="125.5" y="76" width="7.5" height="8.5"/><rect x="97" y="87.5" width="7.5" height="8"/><rect x="106.5" y="87.5" width="7.5" height="8"/><rect x="116" y="87.5" width="7.5" height="8"/><rect x="125.5" y="87.5" width="7.5" height="8"/></g>
<rect x="97" y="41" width="7.5" height="8.5" fill="#4aa3df"/><rect x="106.5" y="41" width="7.5" height="8.5" fill="#4aa3df"/><rect x="116" y="41" width="7.5" height="8.5" fill="#4aa3df"/><rect x="125.5" y="41" width="7.5" height="8.5" fill="#e74c3c"/>
</svg>
<h4>Calculate Formula</h4>
<p>Input sum of skinfolds into a validated formula (e.g., Durnin-Womersley or Jackson-Pollock).</p>
</div>
</div>
</section>

<section style="height:240px;background:#fdf7f0;padding-top:35px">
<h2 style="margin-bottom:17px">Popular Prediction Formulas</h2>
<div class="g2">
<div class="card fm" style="border-left-color:#e35b0b">
<h4 style="color:#e35b0b">Jackson-Pollock (3-Site)</h4>
<p>Men use: chest, abdominal, and front thigh. Women use: tricep, suprailiac, and front thigh. Widely used in fitness settings for quick assessments.</p>
</div>
<div class="card fm" style="border-left-color:#2e7bb5">
<h4 style="color:#2e7bb5">Durnin-Womersley (4-Site)</h4>
<p>Uses bicep, tricep, subscapular, and suprailiac sites. Suitable for a wide age range and often preferred for general population assessments.</p>
</div>
</div>
</section>

<footer style="height:127px;background:#2b2b2b;padding:28px 40px 0;overflow:hidden">
<div style="font-size:20px;line-height:24px;font-weight:bold;color:#e35b0b">GymCreek.com</div>
<div style="font-size:12px;line-height:18px;color:#bbb">Your trusted source for fitness charts, body composition tools, and training reference guides.</div>
<div style="margin-top:13px;font-size:11px;line-height:16px;color:#888">For educational purposes only. Consult a health professional for medical advice.</div>
</footer>

</body></html>
